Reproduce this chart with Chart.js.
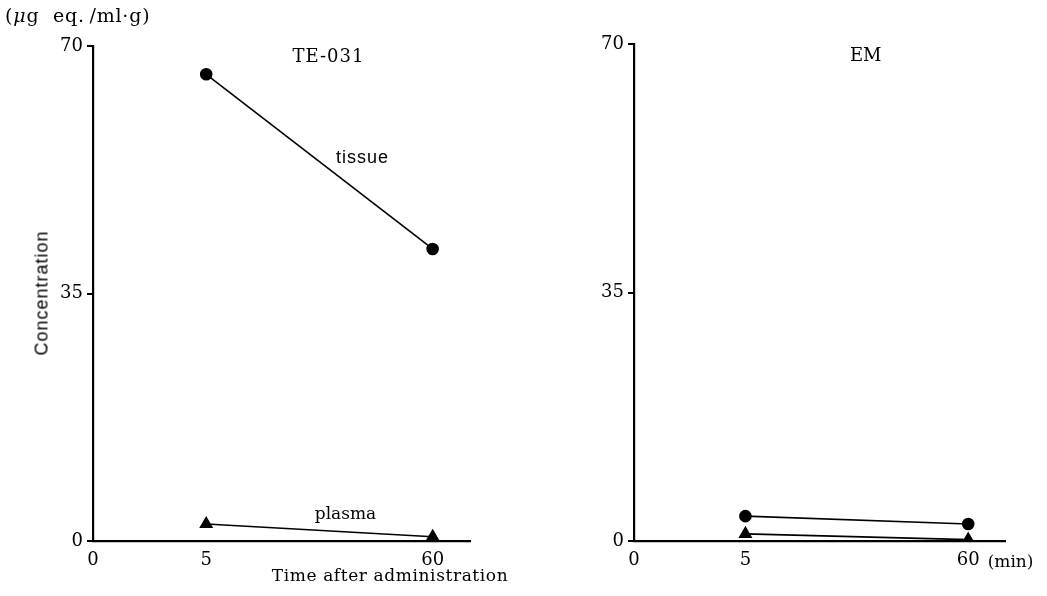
<!DOCTYPE html>
<html>
<head>
  <title>TE-031 / EM concentration</title>
  <script src="https://cdn.jsdelivr.net/npm/chart.js"></script>
  <style>
    body { margin: 0; background: #fff; }
    #page { position: relative; width: 1047px; height: 596px; font-family: "DejaVu Serif", serif; color: #000; }
    .box { position: absolute; top: 0; height: 596px; }
    .txt { position: absolute; white-space: nowrap; font-size: 17px; }
  </style>
</head>
<body>
<div id="page">
  <div class="box" style="left:0; width:520px;"><canvas id="chart1"></canvas></div>
  <div class="box" style="left:520px; width:527px;"><canvas id="chart2"></canvas></div>
  <div class="txt" style="left:5px; top:4px; font-size:19px; letter-spacing:0.8px;">(<i>&mu;</i>g&nbsp; eq.&thinsp;/ml&middot;g)</div>
  <div class="txt" style="left:42px; top:293px; transform: translate(-50%,-50%) rotate(-90deg); font-family:'Liberation Sans',sans-serif; font-size:18px; letter-spacing:1px; color:#000;">Concentration</div>
  <div class="txt" style="left:390px; top:575px; transform: translate(-50%,-50%); letter-spacing:0.6px;">Time after administration</div>
</div>

<script>
  // axis labels and the position of each one on the (broken) time axis
  const timeLabels = ["0", "5", "60"];
  const timePos = [0, 1, 3];
  const sampleTimes = ["5", "60"];
  const yTicks = [0, 35, 70];

  // concentration, ug eq./ml.g
  const teTissue = [66.0, 41.3];
  const tePlasma = [2.4, 0.6];
  const emTissue = [3.5, 2.4];
  const emPlasma = [1.0, 0.2];

  function toPoints(values) {
    return values.map((v, i) => ({ x: timePos[timeLabels.indexOf(sampleTimes[i])], y: v }));
  }

  // draws text notes at data coordinates
  const notesPlugin = {
    id: "notes",
    afterDraw(chart, args, opts) {
      const ctx = chart.ctx;
      const xs = chart.scales.x, ys = chart.scales.y;
      ctx.save();
      ctx.fillStyle = "#000";
      ctx.textAlign = "center";
      ctx.textBaseline = "middle";
      (opts.items || []).forEach(n => {
        ctx.font = n.font || "17px 'DejaVu Serif'";
        if (n.spacing) ctx.letterSpacing = n.spacing;
        ctx.fillText(n.text, xs.getPixelForValue(n.x), ys.getPixelForValue(n.y));
        ctx.letterSpacing = "0px";
      });
      ctx.restore();
    }
  };

  function makeChart(id, tissue, plasma, yLeft, top, padRight, notes) {
    const ctx = document.getElementById(id).getContext("2d");
    return new Chart(ctx, {
      type: "line",
      data: {
        datasets: [
          {
            label: "tissue",
            data: toPoints(tissue),
            borderColor: "#000",
            backgroundColor: "#000",
            borderWidth: 1.6,
            pointStyle: "circle",
            pointRadius: 5.5,
            pointHoverRadius: 5.5
          },
          {
            label: "plasma",
            data: toPoints(plasma),
            borderColor: "#000",
            backgroundColor: "#000",
            borderWidth: 1.6,
            pointStyle: "triangle",
            pointRadius: 6.5,
            pointHoverRadius: 6.5
          }
        ]
      },
      options: {
        responsive: true,
        maintainAspectRatio: false,
        animation: false,
        events: [],
        layout: { padding: { left: 0, top: top, right: padRight, bottom: 0 } },
        plugins: {
          legend: { display: false },
          tooltip: { enabled: false },
          notes: { items: notes }
        },
        scales: {
          x: {
            type: "linear",
            min: 0,
            max: 3.33,
            afterBuildTicks: s => { s.ticks = timePos.map(v => ({ value: v })); },
            afterFit: s => { s.height = 55; },
            grid: { display: false },
            border: { display: true, color: "#000", width: 2.2 },
            ticks: {
              color: "#000",
              padding: 1,
              font: { family: "DejaVu Serif", size: 18 },
              callback: v => timeLabels[timePos.indexOf(v)]
            }
          },
          y: {
            min: 0,
            max: 70,
            afterBuildTicks: s => { s.ticks = yTicks.map(v => ({ value: v })); },
            afterFit: s => { s.width = yLeft; },
            grid: { display: true, drawOnChartArea: false, drawTicks: true, tickLength: 6, color: "#000", lineWidth: 2 },
            border: { display: true, color: "#000", width: 2.2 },
            ticks: {
              color: "#000",
              padding: 4,
              font: { family: "DejaVu Serif", size: 18 }
            }
          }
        }
      },
      plugins: [notesPlugin]
    });
  }

  makeChart("chart1", teTissue, tePlasma, 93, 46, 50, [
    { text: "TE-031", x: 2.08, y: 68.4, font: "18px 'DejaVu Serif'", spacing: "1px" },
    { text: "tissue", x: 2.38, y: 54.2, font: "18px 'Liberation Sans'", spacing: "1px" },
    { text: "plasma", x: 2.23, y: 3.7 }
  ]);

  makeChart("chart2", emTissue, emPlasma, 114, 44, 42, [
    { text: "EM", x: 2.08, y: 68.2, font: "18px 'DejaVu Serif'" },
    { text: "(min)", x: 3.38, y: -3.1 }
  ]);
</script>
</body>
</html>
